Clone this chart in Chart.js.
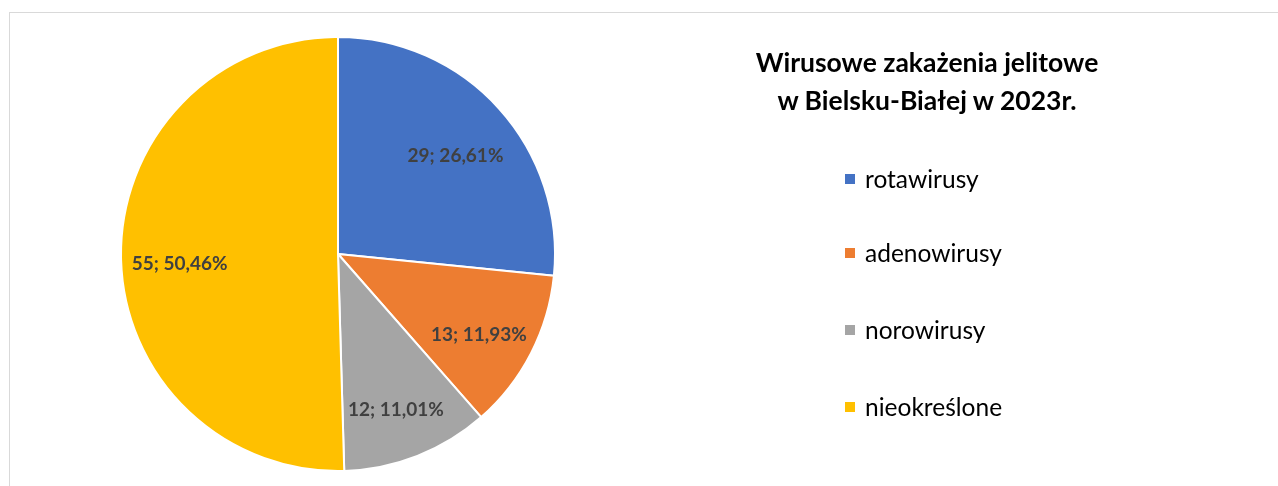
<!DOCTYPE html>
<html>
<head>
<meta charset="utf-8">
<script src="https://cdn.jsdelivr.net/npm/chart.js@4/dist/chart.umd.min.js"></script>
<style>
  html, body { margin: 0; padding: 0; background: #fff; }
  #wrap { position: relative; width: 1278px; height: 486px; overflow: hidden; }
  #frame { position: absolute; left: 9px; top: 12px; width: 1300px; height: 520px; border: 1px solid #d9d9d9; box-sizing: border-box; }
  #pieChart { position: absolute; left: 0; top: 0; }
  #title { position: absolute; left: 677px; top: 43px; width: 500px; text-align: center;
           font-family: Lato, sans-serif; font-weight: bold; font-size: 26.5px; line-height: 38px; color: #000; }
  #legend { position: absolute; left: 845px; top: 0; font-family: Lato, sans-serif; font-size: 24.5px; color: #000; }
  .item { position: absolute; left: 0; white-space: nowrap; display: flex; align-items: center; }
  .box { width: 10px; height: 10px; margin-right: 10px; }
</style>
</head>
<body>
<div id="wrap">
  <div id="frame"></div>
  <canvas id="pieChart" width="1278" height="486"></canvas>
  <div id="title">Wirusowe zakażenia jelitowe<br>w Bielsku-Białej w 2023r.</div>
  <div id="legend"></div>
</div>
<script>
const categories = ['rotawirusy', 'adenowirusy', 'norowirusy', 'nieokreślone'];
const counts = [29, 13, 12, 55];
const percentLabels = ['26,61%', '11,93%', '11,01%', '50,46%'];
const colours = ['#4472C4', '#ED7D31', '#A5A5A5', '#FFC000'];

document.addEventListener("DOMContentLoaded", () => {

    // legend built from the same arrays
    const legend = document.getElementById('legend');
    const legendTops = [164, 238, 315, 392];
    categories.forEach((name, i) => {
        const item = document.createElement('div');
        item.className = 'item';
        item.style.top = legendTops[i] + 'px';
        item.innerHTML = `<span class="box" style="background:${colours[i]}"></span>${name}`;
        legend.appendChild(item);
    });

    // value; percent labels inside the slices
    const sliceLabels = {
        id: 'sliceLabels',
        afterDatasetsDraw(chart) {
            const ctx = chart.ctx;
            const meta = chart.getDatasetMeta(0);
            ctx.save();
            ctx.font = 'bold 19px Lato, sans-serif';
            ctx.fillStyle = '#404040';
            ctx.textAlign = 'center';
            ctx.textBaseline = 'middle';
            meta.data.forEach((arc, i) => {
                const p = arc.getProps(['x', 'y', 'startAngle', 'endAngle', 'outerRadius']);
                const mid = (p.startAngle + p.endAngle) / 2;
                const r = p.outerRadius * 0.73;
                const x = p.x + Math.cos(mid) * r;
                const y = p.y + Math.sin(mid) * r + 8;
                ctx.fillText(counts[i] + '; ' + percentLabels[i], x, y);
            });
            ctx.restore();
        }
    };

    const ctx = document.getElementById('pieChart').getContext('2d');
    new Chart(ctx, {
        type: 'pie',
        data: {
            labels: categories,
            datasets: [{
                data: counts,
                backgroundColor: colours,
                borderColor: '#ffffff',
                borderWidth: 2
            }]
        },
        options: {
            responsive: false,
            animation: false,
            layout: {
                padding: { left: 120, right: 722, top: 36, bottom: 14 }
            },
            plugins: {
                legend: { display: false },
                tooltip: { enabled: false },
                title: { display: false }
            }
        },
        plugins: [sliceLabels]
    });
});
</script>
</body>
</html>
